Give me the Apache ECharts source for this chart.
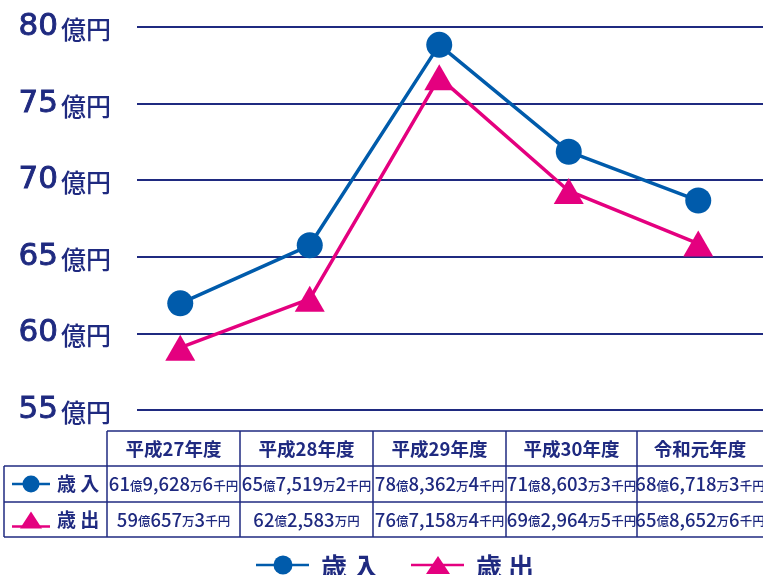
<!DOCTYPE html>
<html><head><meta charset="utf-8">
<script src="https://cdn.jsdelivr.net/npm/echarts@6/dist/echarts.min.js"></script>
<style>html,body{margin:0;padding:0;background:#fff}#c{width:763px;height:575px}</style>
</head><body><div id="c"></div>
<script>
// ---- data ----
const categories = ['平成27年度','平成28年度','平成29年度','平成30年度','令和元年度'];
const incomeName = '歳 入';
const expenseName = '歳 出';
// values in 億円
const income  = [61.96286, 65.75192, 78.83624, 71.86033, 68.67183];
const expense = [59.06573, 62.25830, 76.71584, 69.29645, 65.86526];
const yTicks = [55, 60, 65, 70, 75, 80];

const NAVY = '#1f2a80';
const BLUE = '#005bab';
const PINK = '#e4007f';
const FONT = '"Noto Sans CJK JP", "Noto Sans", sans-serif';
const DIGIT_FONT = '"DejaVu Sans", "Noto Sans", sans-serif';

function fmtYen(v){
  const t = Math.round(v*100000); // 千円
  const oku = Math.floor(t/100000);
  const rem = t - oku*100000;
  const man = Math.floor(rem/10);
  const sen = rem % 10;
  let s = '{n|'+oku+'}{u|億}{n|'+man.toLocaleString('en-US')+'}';
  if (sen) s += '{u|万}{n|'+sen+'}{u|千円}'; else s += '{u|万円}';
  return s;
}

const chart = echarts.init(document.getElementById('c'), null, {renderer:'canvas'});

// table geometry
const colX = [4, 107, 240, 373, 506, 637, 770];
const rowY = [431, 466, 502, 537];
const g = [];
const lineStyle = {stroke: NAVY, lineWidth: 1.5};
g.push({type:'line', shape:{x1:colX[1], y1:rowY[0], x2:763, y2:rowY[0]}, style:lineStyle});
for (let r=1;r<4;r++) g.push({type:'line', shape:{x1:colX[0], y1:rowY[r], x2:763, y2:rowY[r]}, style:lineStyle});
g.push({type:'line', shape:{x1:colX[0], y1:rowY[1], x2:colX[0], y2:rowY[3]}, style:lineStyle});
for (let c=1;c<6;c++) g.push({type:'line', shape:{x1:colX[c], y1:rowY[0], x2:colX[c], y2:rowY[3]}, style:lineStyle});
const rich = {
  n:{fontSize:18.5, fontFamily:FONT, fill:NAVY, fontWeight:500},
  u:{fontSize:12.5, fontFamily:FONT, fill:NAVY, fontWeight:500, padding:[4,0,0,0]}
};
for (let c=0;c<5;c++){
  const cx = (colX[c+1]+Math.min(colX[c+2],763))/2;
  g.push({type:'text', x:cx, y:(rowY[0]+rowY[1])/2, style:{text:categories[c], fontSize:18.5, fontWeight:'bold', fontFamily:FONT, fill:NAVY, align:'center', verticalAlign:'middle'}});
  g.push({type:'text', x:cx, y:(rowY[1]+rowY[2])/2, style:{text:fmtYen(income[c]), rich:rich, align:'center', verticalAlign:'middle'}});
  g.push({type:'text', x:cx, y:(rowY[2]+rowY[3])/2, style:{text:fmtYen(expense[c]), rich:rich, align:'center', verticalAlign:'middle'}});
}
// row header icons
const r1 = (rowY[1]+rowY[2])/2, r2 = (rowY[2]+rowY[3])/2;
g.push({type:'line', shape:{x1:12, y1:r1, x2:50, y2:r1}, style:{stroke:BLUE, lineWidth:2.5}});
g.push({type:'circle', shape:{cx:31, cy:r1, r:8.5}, style:{fill:BLUE}});
g.push({type:'text', x:57, y:r1, style:{text:incomeName, fontSize:19, fontWeight:'bold', fontFamily:FONT, fill:NAVY, verticalAlign:'middle'}});
g.push({type:'line', shape:{x1:12, y1:r2+7, x2:50, y2:r2+7}, style:{stroke:PINK, lineWidth:2.5}});
g.push({type:'polygon', shape:{points:[[31,r2-8],[20,r2+9],[42,r2+9]]}, style:{fill:PINK}});
g.push({type:'text', x:57, y:r2, style:{text:expenseName, fontSize:19, fontWeight:'bold', fontFamily:FONT, fill:NAVY, verticalAlign:'middle'}});
// bottom legend
const ly = 565;
g.push({type:'line', shape:{x1:256, y1:ly, x2:309, y2:ly}, style:{stroke:BLUE, lineWidth:2.5}});
g.push({type:'circle', shape:{cx:283, cy:ly, r:9.5}, style:{fill:BLUE}});
g.push({type:'text', x:321, y:ly+2, style:{text:incomeName, fontSize:26, fontWeight:'bold', fontFamily:FONT, fill:NAVY, verticalAlign:'middle'}});
g.push({type:'line', shape:{x1:411, y1:ly, x2:464, y2:ly}, style:{stroke:PINK, lineWidth:2.5}});
g.push({type:'polygon', shape:{points:[[438,ly-9],[426,ly+9],[450,ly+9]]}, style:{fill:PINK}});
g.push({type:'text', x:476, y:ly+2, style:{text:expenseName, fontSize:26, fontWeight:'bold', fontFamily:FONT, fill:NAVY, verticalAlign:'middle'}});

chart.setOption({
  animation:false,
  textStyle:{fontFamily:FONT},
  grid:[
    {left:137, right:0, top:27, bottom:165, containLabel:false},
    {left:115.5, right:-7.5, top:27, bottom:165, containLabel:false}
  ],
  xAxis:[
    {type:'category', data:categories, show:false, gridIndex:0},
    {type:'category', data:categories, show:false, gridIndex:1, boundaryGap:true}
  ],
  yAxis:[
    {type:'value', min:55, max:80, interval:5, gridIndex:0,
      axisLine:{show:false}, axisTick:{show:false},
      splitLine:{lineStyle:{color:NAVY, width:2}},
      axisLabel:{margin:26, formatter:function(v){return yTicks.indexOf(v)>=0 ? '{n|'+v+'}{u|億円}' : '';},
        rich:{n:{fontSize:31, color:NAVY, fontFamily:DIGIT_FONT, fontWeight:'normal', textBorderColor:NAVY, textBorderWidth:0.9, padding:[0,3,0,0]},
              u:{fontSize:25, color:NAVY, fontFamily:FONT, fontWeight:500, padding:[5,0,0,0]}}}
    },
    {type:'value', min:55, max:80, interval:5, gridIndex:1, show:false, splitLine:{show:false}}
  ],
  graphic:g,
  series:[
    {name:incomeName, type:'line', data:income, xAxisIndex:1, yAxisIndex:1, symbol:'circle', symbolSize:26,
      lineStyle:{color:BLUE, width:3.5}, itemStyle:{color:BLUE}, z:3},
    {name:expenseName, type:'line', data:expense, xAxisIndex:1, yAxisIndex:1, symbol:'triangle', symbolSize:[30,26],
      lineStyle:{color:PINK, width:3.5}, itemStyle:{color:PINK}, z:4}
  ]
});
</script></body></html>
